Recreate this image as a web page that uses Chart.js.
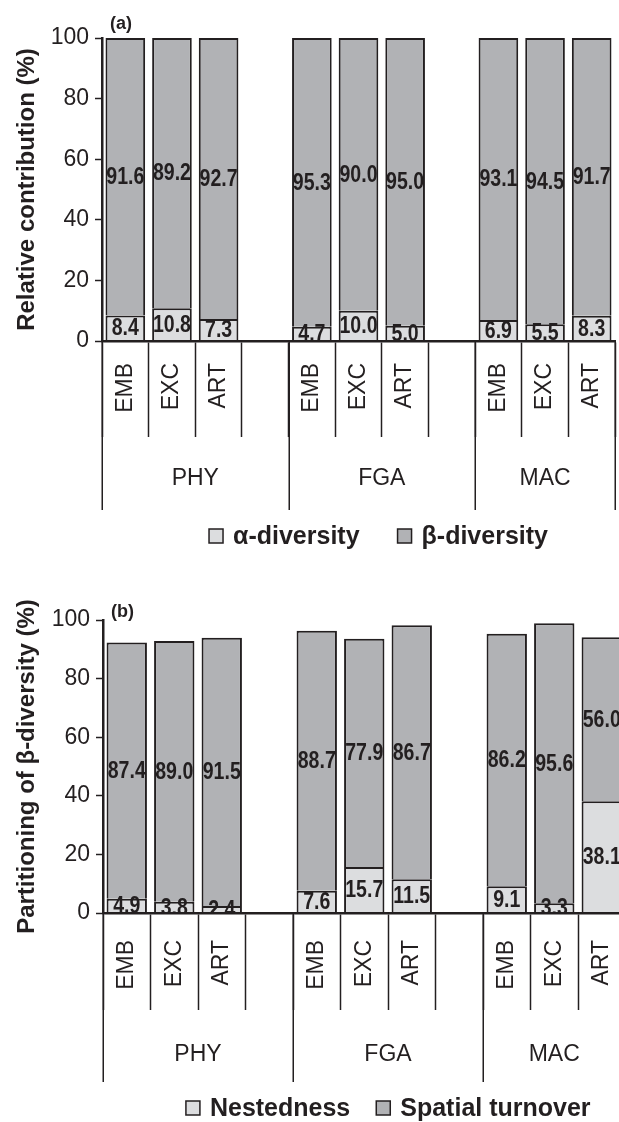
<!DOCTYPE html>
<html>
<head>
<meta charset="utf-8">
<script src="https://cdn.jsdelivr.net/npm/chart.js@4.4.1/dist/chart.umd.min.js"></script>
<style>
  html, body { margin: 0; padding: 0; background: #fff; overflow: hidden; width: 619px; height: 1122px; }
  #wrap { position: relative; width: 619px; height: 1122px; overflow: hidden; }
  #panelA { position: absolute; left: 0; top: 0; }
  #panelB { position: absolute; left: 0; top: 560px; }
</style>
</head>
<body>
<div id="wrap">
  <canvas id="panelA" width="619" height="560"></canvas>
  <canvas id="panelB" width="630" height="562"></canvas>
</div>
<script>
// Assemblage groups and site types
const groups = ['PHY', 'FGA', 'MAC'];
const sites = ['EMB', 'EXC', 'ART'];
const yTicks = [0, 20, 40, 60, 80, 100];

// (a) relative contribution of alpha and beta diversity (%), group by site
const alphaDiversity = [8.4, 10.8, 7.3, 4.7, 10.0, 5.0, 6.9, 5.5, 8.3];
const betaDiversity = [91.6, 89.2, 92.7, 95.3, 90.0, 95.0, 93.1, 94.5, 91.7];

// (b) partitioning of beta diversity (%)
const nestedness = [4.9, 3.8, 2.4, 7.6, 15.7, 11.5, 9.1, 3.3, 38.1];
const spatialTurnover = [87.4, 89.0, 91.5, 88.7, 77.9, 86.7, 86.2, 95.6, 56.0];

// Slot layout: three sites per group, an empty spacer slot between groups
const slotLabels = [];
const groupSpans = [];
groups.forEach((g, gi) => {
  const start = slotLabels.length;
  sites.forEach(s => slotLabels.push(s));
  if (gi < groups.length - 1) slotLabels.push('');
  groupSpans.push({ label: g, start: start, end: slotLabels.length });
});
function toSlots(values) {
  const out = [];
  let k = 0;
  groups.forEach((g, gi) => {
    sites.forEach(() => out.push(values[k++]));
    if (gi < groups.length - 1) out.push(null);
  });
  return out;
}

const INK = '#231f20';
const LIGHT = '#dcdddf';
const DARK = '#b1b2b5';
const FONT = '"Liberation Sans", Arial, Helvetica, sans-serif';

// Value labels inside segments, group brackets, legend and panel tag
const decor = {
  id: 'decor',
  afterDatasetsDraw(chart) {
    const { ctx, chartArea } = chart;
    ctx.save();
    ctx.beginPath();
    ctx.rect(chartArea.left, 0, chartArea.right - chartArea.left + 20, chartArea.bottom);
    ctx.clip();
    ctx.font = 'bold 23px ' + FONT;
    ctx.fillStyle = INK;
    ctx.textAlign = 'center';
    ctx.textBaseline = 'middle';
    chart.data.datasets.forEach((ds, di) => {
      const meta = chart.getDatasetMeta(di);
      meta.data.forEach((bar, i) => {
        const v = ds.data[i];
        if (v === null || v === undefined) return;
        const p = bar.getProps(['x', 'y', 'base'], true);
        ctx.save();
        ctx.translate(p.x, (p.y + p.base) / 2 + 1);
        ctx.scale(0.85, 1);
        ctx.fillText(v.toFixed(1), 0, 0);
        ctx.restore();
      });
    });
    ctx.restore();
  },
  afterDraw(chart, args, opts) {
    const { ctx, chartArea } = chart;
    const xs = chart.scales.x;
    const edge = k => xs.getPixelForValue(k - 0.5);
    const bottom = chartArea.bottom;
    ctx.save();
    // group separators
    ctx.strokeStyle = INK;
    ctx.lineWidth = 1.5;
    const edges = groupSpans.map(g => g.start).concat([groupSpans[groupSpans.length - 1].end]);
    edges.forEach(k => {
      const x = Math.round(edge(k)) + 0.25;
      ctx.beginPath();
      ctx.moveTo(x, bottom);
      ctx.lineTo(x, bottom + opts.groupLine);
      ctx.stroke();
    });
    // group names
    ctx.font = '23px ' + FONT;
    ctx.fillStyle = INK;
    ctx.textAlign = 'center';
    ctx.textBaseline = 'middle';
    groupSpans.forEach(g => {
      ctx.fillText(g.label, (edge(g.start) + edge(g.end)) / 2, bottom + opts.groupText);
    });
    // legend
    ctx.font = 'bold 25px ' + FONT;
    const items = chart.data.datasets.map(ds => ({ text: ds.label, color: ds.backgroundColor, w: ctx.measureText(ds.label).width }));
    const box = 14, boxGap = 10, itemGap = opts.itemGap;
    let total = 0;
    items.forEach((it, i) => { total += box + boxGap + it.w + (i ? itemGap : 0); });
    let x = (chartArea.left + chartArea.right) / 2 + opts.legendShift - total / 2;
    const ly = bottom + opts.legendY;
    ctx.textAlign = 'left';
    items.forEach(it => {
      ctx.fillStyle = it.color;
      ctx.fillRect(x, ly - box / 2, box, box);
      ctx.strokeStyle = INK;
      ctx.lineWidth = 1.5;
      ctx.strokeRect(x, ly - box / 2, box, box);
      ctx.fillStyle = INK;
      ctx.fillText(it.text, x + box + boxGap, ly + 1);
      x += box + boxGap + it.w + itemGap;
    });
    // panel tag
    ctx.font = 'bold 18px ' + FONT;
    ctx.textAlign = 'left';
    ctx.textBaseline = 'alphabetic';
    ctx.fillText(opts.tag, chartArea.left + 8, chartArea.top - opts.tagLift);
    ctx.restore();
  }
};

function makePanel(canvasId, cfg) {
  const seg = (label, values, color) => ({
    label: label,
    data: toSlots(values),
    backgroundColor: color,
    borderColor: INK,
    borderWidth: 2,
    borderSkipped: 'start',
    clip: false,
    barPercentage: 0.85,
    categoryPercentage: 1
  });
  return new Chart(document.getElementById(canvasId), {
    type: 'bar',
    data: {
      labels: slotLabels,
      datasets: [
        seg(cfg.lowerLabel, cfg.lower, LIGHT),
        seg(cfg.upperLabel, cfg.upper, DARK)
      ]
    },
    options: {
      responsive: false,
      animation: false,
      devicePixelRatio: 1,
      layout: { padding: { top: cfg.top, right: cfg.right, left: 0, bottom: 0 } },
      plugins: {
        legend: { display: false },
        tooltip: { enabled: false },
        decor: {
          tag: cfg.tag, tagLift: cfg.tagLift,
          groupLine: cfg.groupLine, groupText: cfg.groupText,
          legendY: cfg.legendY, legendShift: cfg.legendShift, itemGap: cfg.itemGap
        }
      },
      scales: {
        x: {
          stacked: true,
          grid: {
            offset: true, drawOnChartArea: false, drawTicks: true,
            tickLength: cfg.tickLen, tickWidth: 1.5, tickColor: INK
          },
          border: { display: true, color: INK, width: 2.5, z: 1 },
          ticks: {
            autoSkip: false, minRotation: 90, maxRotation: 90,
            padding: cfg.labelEnd - cfg.tickLen,
            color: INK, font: { family: FONT, size: 23 }
          },
          afterFit: s => { s.height = cfg.xHeight; }
        },
        y: {
          stacked: true, min: 0, max: 100,
          afterBuildTicks: s => { s.ticks = yTicks.map(v => ({ value: v })); },
          grid: { drawOnChartArea: false, drawTicks: true, tickLength: 7, tickWidth: 1.5, tickColor: INK },
          border: { display: true, color: INK, width: 2.5, z: 1 },
          ticks: { padding: 6, color: INK, font: { family: FONT, size: 23 } },
          title: {
            display: true, text: cfg.yTitle, color: INK,
            font: { family: FONT, size: 24, weight: 'bold' },
            padding: { top: 13, bottom: 0 }
          },
          afterFit: s => { s.width = cfg.yWidth; }
        }
      }
    },
    plugins: [decor]
  });
}

makePanel('panelA', {
  tag: '(a)', tagLift: 9,
  lowerLabel: 'α-diversity', lower: alphaDiversity,
  upperLabel: 'β-diversity', upper: betaDiversity,
  yTitle: 'Relative contribution (%)',
  top: 38, right: 4, yWidth: 102, xHeight: 219,
  tickLen: 96, labelEnd: 22, groupLine: 169, groupText: 138,
  legendY: 195, legendShift: 20, itemGap: 38
});

makePanel('panelB', {
  tag: '(b)', tagLift: 3,
  lowerLabel: 'Nestedness', lower: nestedness,
  upperLabel: 'Spatial turnover', upper: spatialTurnover,
  yTitle: 'Partitioning of β-diversity (%)',
  top: 60, right: 4.5, yWidth: 103, xHeight: 209,
  tickLen: 97, labelEnd: 27, groupLine: 169, groupText: 142,
  legendY: 195, legendShift: 24, itemGap: 26
});
</script>
</body>
</html>
